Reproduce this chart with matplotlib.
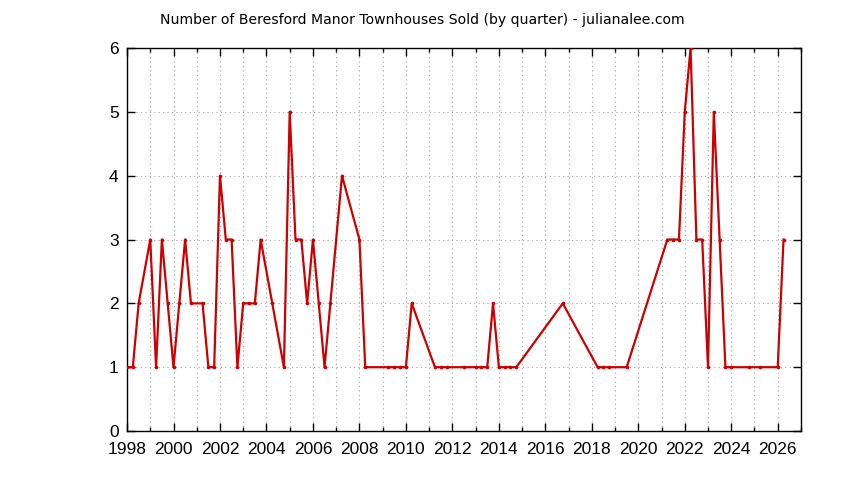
import matplotlib
matplotlib.use("Agg")
import matplotlib.pyplot as plt
from matplotlib.ticker import MultipleLocator

# quarter (decimal year) and number of townhouses sold
quarters = [1998.0, 1998.25, 1998.5, 1999.0, 1999.25, 1999.5, 1999.75,
            2000.0, 2000.25, 2000.5, 2000.75, 2001.25, 2001.5, 2001.75,
            2002.0, 2002.25, 2002.5, 2002.75, 2003.0, 2003.25, 2003.5, 2003.75,
            2004.25, 2004.75, 2005.0, 2005.25, 2005.5, 2005.75,
            2006.0, 2006.25, 2006.5, 2006.75, 2007.25, 2008.0, 2008.25,
            2009.25, 2009.5, 2009.75, 2010.0, 2010.25,
            2011.25, 2011.5, 2011.75, 2012.5, 2013.0, 2013.25, 2013.5, 2013.75,
            2014.0, 2014.25, 2014.5, 2014.75, 2016.75,
            2018.25, 2018.5, 2018.75, 2019.5,
            2021.25, 2021.5, 2021.75, 2022.0, 2022.25, 2022.5, 2022.75,
            2023.0, 2023.25, 2023.5, 2023.75, 2024.0, 2024.75, 2025.25,
            2026.0, 2026.25]
sold = [1, 1, 2, 3, 1, 3, 2,
        1, 2, 3, 2, 2, 1, 1,
        4, 3, 3, 1, 2, 2, 2, 3,
        2, 1, 5, 3, 3, 2,
        3, 2, 1, 2, 4, 3, 1,
        1, 1, 1, 1, 2,
        1, 1, 1, 1, 1, 1, 1, 2,
        1, 1, 1, 1, 2,
        1, 1, 1, 1,
        3, 3, 3, 5, 6, 3, 3,
        1, 5, 3, 1, 1, 1, 1,
        1, 3]

title = "Number of Beresford Manor Townhouses Sold (by quarter) - julianalee.com"

fig = plt.figure(figsize=(8.44, 4.8), dpi=100)
ax = fig.add_axes([0.1505, 0.102, 0.7985, 0.798])

ax.plot(quarters, sold, color="#cc0000", lw=1.6, marker="o", ms=2.6,
        markeredgewidth=0, zorder=3)

ax.set_xlim(1998, 2027)
ax.set_ylim(0, 6)
ax.xaxis.set_major_locator(MultipleLocator(2))
ax.xaxis.set_minor_locator(MultipleLocator(1))
ax.yaxis.set_major_locator(MultipleLocator(1))

ax.grid(which="both", axis="x", color="#a0a0a0", linestyle=(0, (1, 3)), lw=0.8)
ax.grid(which="major", axis="y", color="#a0a0a0", linestyle=(0, (1, 3)), lw=0.8)

ax.tick_params(which="major", direction="in", length=6, width=1,
               top=True, right=True, labelsize=12.5, pad=6)
ax.tick_params(axis="x", which="major", pad=8)
ax.tick_params(which="minor", direction="in", length=3, width=1,
               top=True, right=True)
for lab in ax.get_xticklabels() + ax.get_yticklabels():
    lab.set_family("Liberation Sans")
for s in ax.spines.values():
    s.set_linewidth(1)

fig.text(0.5, 0.958, title, ha="center", va="center", fontsize=10.1)

plt.savefig("out.png", dpi=100)
